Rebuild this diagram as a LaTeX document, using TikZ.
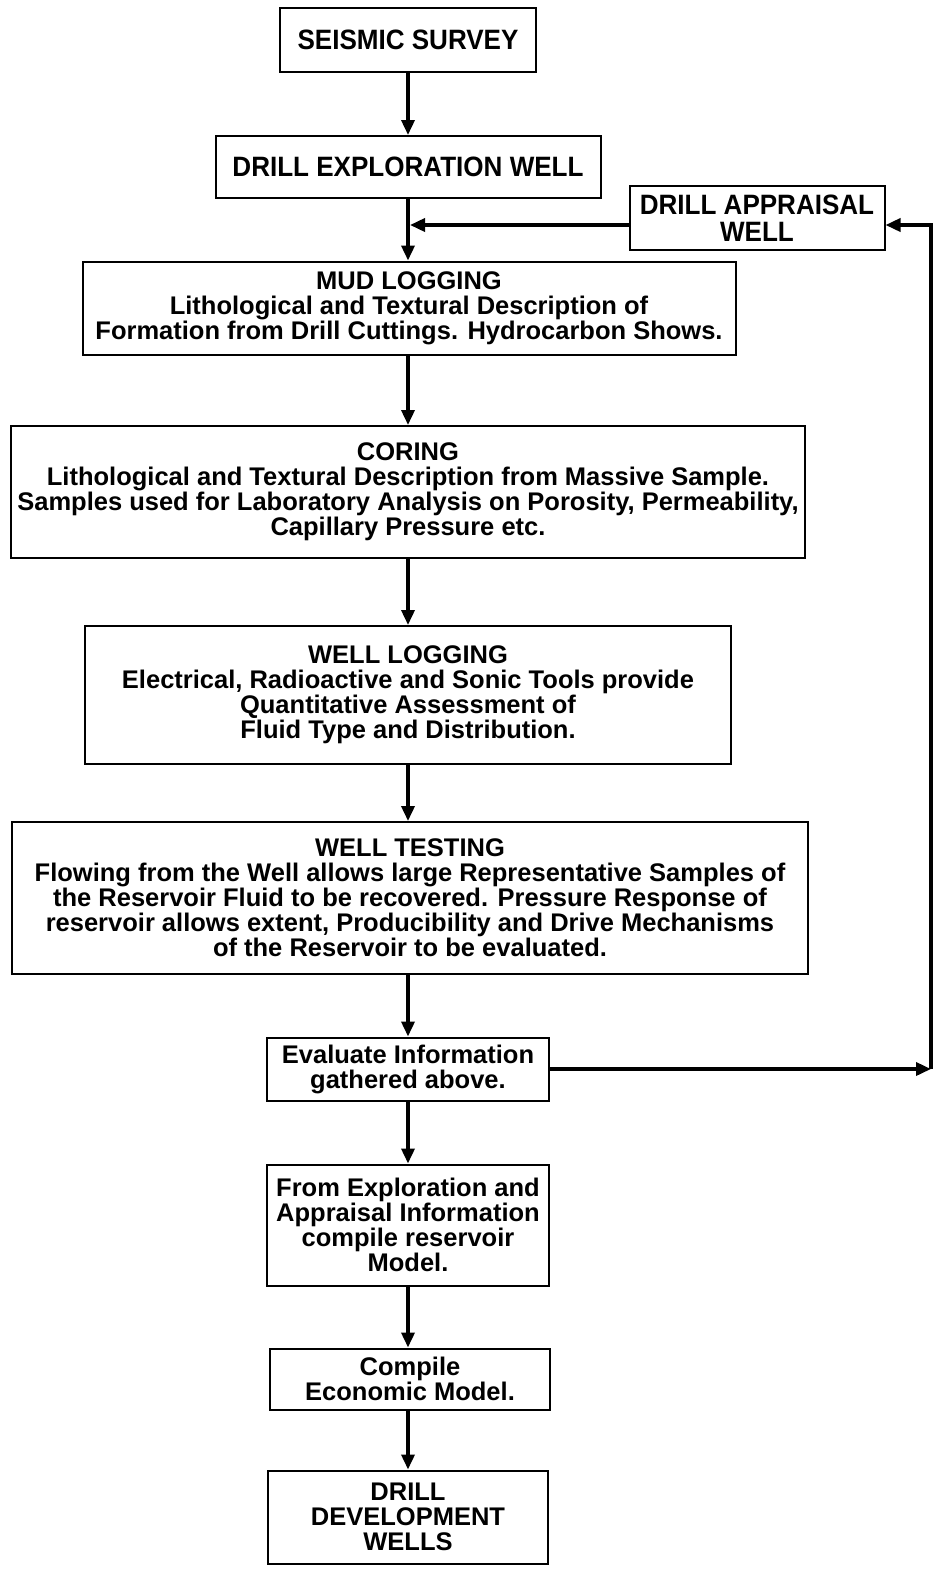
\documentclass[tikz,border=0pt]{standalone}
\usepackage{fontspec}
\newfontfamily\lab{Liberation Sans}
\newfontfamily\labc{Liberation Sans}[FakeStretch=0.93]
\usetikzlibrary{arrows.meta}
\begin{document}
\begin{tikzpicture}[x=1pt,y=-1pt,
  box/.style={draw,line width=2pt,inner sep=0pt,align=center,anchor=center},
  big/.style={font=\labc\bfseries\fontsize{28}{31}\selectfont},
  body/.style={font=\lab\bfseries\fontsize{25.5}{25}\selectfont},
  arr/.style={line width=3.5pt,-{Triangle[length=15pt,width=13pt]}},
  ln/.style={line width=3.5pt}]
\fill[white] (0,0) rectangle (935,1572);
\useasboundingbox (0,0) rectangle (935,1572);
\node[box,big,minimum width=256pt,minimum height=64pt] (seis) at (408,40) {SEISMIC SURVEY};
\node[box,big,minimum width=385pt,minimum height=62pt] (expl) at (408,167) {DRILL EXPLORATION WELL};
\node[box,big,minimum width=255pt,minimum height=64pt] (appr) at (757,218) {DRILL APPRAISAL\\[-4pt]WELL};
\node[box,body,minimum width=653pt,minimum height=93pt] (mud) at (409,308) {MUD LOGGING\\Lithological and Textural Description of\\Formation from Drill Cuttings. Hydrocarbon Shows.};
\node[box,body,minimum width=794pt,minimum height=132pt] (cor) at (408,492) {CORING\\Lithological and Textural Description from Massive Sample.\\Samples used for Laboratory Analysis on Porosity, Permeability,\\Capillary Pressure etc.};
\node[box,body,minimum width=646pt,minimum height=138pt] (wlog) at (408,695) {WELL LOGGING\\Electrical, Radioactive and Sonic Tools provide\\Quantitative Assessment of\\Fluid Type and Distribution.};
\node[box,body,minimum width=796pt,minimum height=152pt] (wtest) at (410,898) {WELL TESTING\\Flowing from the Well allows large Representative Samples of\\the Reservoir Fluid to be recovered. Pressure Response of\\reservoir allows extent, Producibility and Drive Mechanisms\\of the Reservoir to be evaluated.};
\node[box,body,minimum width=282pt,minimum height=63pt] (eval) at (408,1069) {Evaluate Information\\gathered above.};
\node[box,body,minimum width=282pt,minimum height=121pt] (model) at (408,1225) {From Exploration and\\Appraisal Information\\compile reservoir\\Model.};
\node[box,body,minimum width=280pt,minimum height=61pt] (econ) at (410,1379) {Compile\\Economic Model.};
\node[box,body,minimum width=280pt,minimum height=93pt] (dev) at (408,1517) {DRILL\\DEVELOPMENT\\WELLS};
% main flow
\draw[arr] (seis.south) -- (seis.south |- expl.north);
\draw[arr] (expl.south) -- (expl.south |- mud.north);
\draw[arr] (mud.south -| cor.north) -- (cor.north);
\draw[arr] (cor.south) -- (cor.south |- wlog.north);
\draw[arr] (wlog.south) -- (wlog.south |- wtest.north);
\draw[arr] (wtest.south -| eval.north) -- (eval.north);
\draw[arr] (eval.south) -- (model.north);
\draw[arr] (model.south) -- (model.south |- econ.north);
\draw[arr] (econ.south -| dev.north) -- (dev.north);
% appraisal loop
\coordinate (j1) at (410,225);
\coordinate (c1) at (931,1069);
\coordinate (c2) at (931,225);
\draw[arr] (appr.west |- j1) -- (j1);
\draw[arr] (eval.east) -- (c1);
\draw[arr] (c1) -- (c2) -- (appr.east |- c2);
\end{tikzpicture}
\end{document}
